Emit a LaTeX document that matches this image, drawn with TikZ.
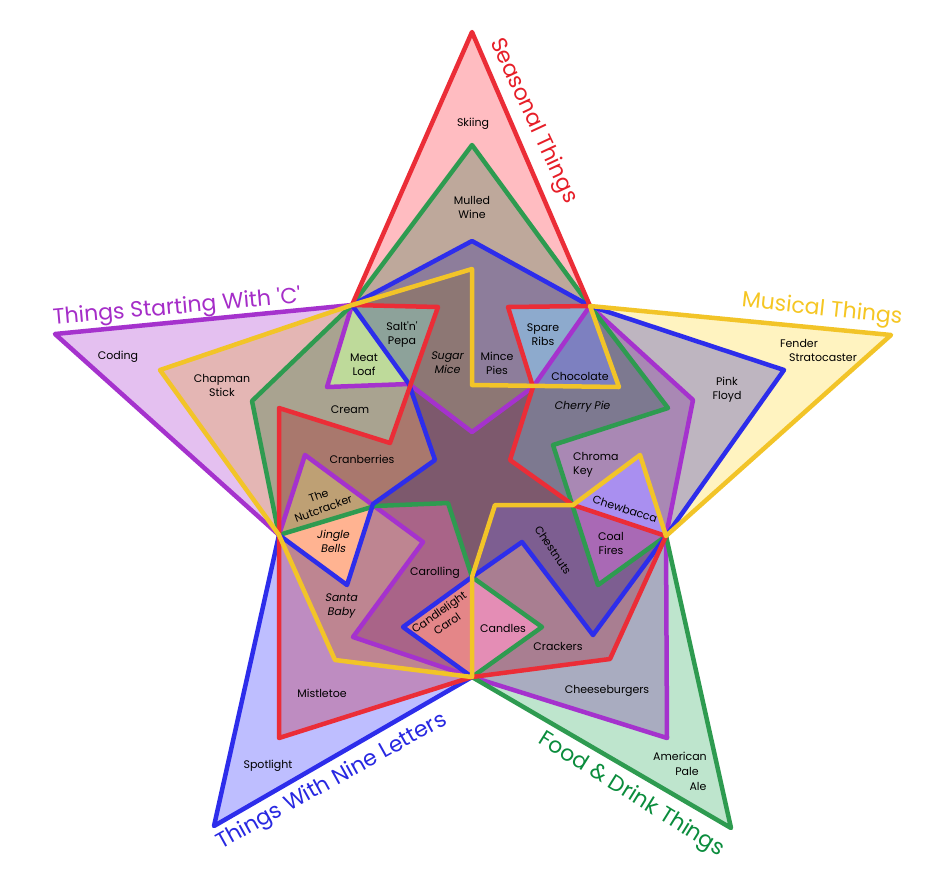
\documentclass[tikz,border=0pt]{standalone}
\usepackage{fontspec}
\setmainfont{Poppins}
\newfontfamily\itfont{Poppins}[FakeSlant=0.18]
\definecolor{cred}{RGB}{235,45,55}
\definecolor{cyel}{RGB}{242,196,40}
\definecolor{cgrn}{RGB}{46,155,80}
\definecolor{cblu}{RGB}{45,45,235}
\definecolor{cpur}{RGB}{165,50,205}
\definecolor{tred}{RGB}{255,188,193}
\definecolor{tyel}{RGB}{255,243,192}
\definecolor{tgrn}{RGB}{190,229,205}
\definecolor{tblu}{RGB}{190,190,255}
\definecolor{tpur}{RGB}{228,192,240}
\definecolor{lred}{RGB}{230,30,40}
\definecolor{lyel}{RGB}{245,198,35}
\definecolor{lgrn}{RGB}{10,140,60}
\definecolor{lblu}{RGB}{40,40,225}
\definecolor{lpur}{RGB}{165,45,200}
\begin{document}
\begin{tikzpicture}[x=1pt,y=-1pt,
  edge/.style={line width=4.5pt,line join=round},
  area/.style={blend mode=multiply},
  lbl/.style={font=\fontsize{11}{14}\selectfont,align=center,inner sep=0pt,text=black},
  ilbl/.style={font=\itfont\fontsize{11}{14}\selectfont,align=center,inner sep=0pt,text=black},
  setlbl/.style={font=\fontsize{22}{24}\selectfont,inner sep=0pt}]
\useasboundingbox (0,0) rectangle (945,895);
\coordinate (P1) at (352,305);
\coordinate (P2) at (590,306);
\coordinate (P3) at (666,536);
\coordinate (P4) at (472,677);
\coordinate (P5) at (279,535);
\coordinate (Rtip) at (472,32);
\coordinate (Ytip) at (891,335);
\coordinate (Gtip) at (731,828);
\coordinate (Btip) at (214,826);
\coordinate (Ctip) at (55,334);
\def\redpath{(Rtip) -- (P2) -- (508,307) -- (533,387) -- (510,460) -- (573,505) -- (P3) -- (610,659) -- (P4) -- (279,738) -- (P5) -- (279,408) -- (390,443) -- (438,307) -- (P1) -- cycle}
\def\yelpath{(Ytip) -- (P3) -- (640,455) -- (573,505) -- (495,505) -- (472,577) -- (P4) -- (335,660) -- (P5) -- (160,370) -- (P1) -- (472,269) -- (472,385) -- (619,387) -- (P2) -- cycle}
\def\grnpath{(Gtip) -- (P4) -- (542,627) -- (472,577) -- (448,503) -- (375,506) -- (P5) -- (252,401) -- (P1) -- (472,145) -- (P2) -- (668,408) -- (553,445) -- (598,585) -- (P3) -- cycle}
\def\blupath{(Btip) -- (P4) -- (403,627) -- (472,577) -- (522,542) -- (593,635) -- (P3) -- (784,370) -- (P2) -- (472,241) -- (P1) -- (409,384) -- (435,460) -- (373,504) -- (347,585) -- (P5) -- cycle}
\def\purpath{(Ctip) -- (P1) -- (327,387) -- (409,384) -- (472,432) -- (533,387) -- (P2) -- (693,400) -- (P3) -- (667,738) -- (P4) -- (353,637) -- (423,542) -- (305,455) -- (P5) -- cycle}
% fills (multiplied tints)
\fill[area,tpur] \purpath;
\fill[area,tgrn] \grnpath;
\fill[area,tblu] \blupath;
\fill[area,tred] \redpath;
\fill[area,tyel] \yelpath;
% outlines
\draw[edge,cpur] \purpath;
\draw[edge,cgrn] \grnpath;
\draw[edge,cblu] \blupath;
\draw[edge,cred] \redpath;
\draw[edge,cyel] \yelpath;
% item labels
\node[lbl] (skiing) at (473,124) {Skiing};
\node[lbl] (mulled) at (472,207) {Mulled\\Wine};
\node[lbl] (coding) at (118,357) {Coding};
\node[lbl] (chapman) at (222,385) {Chapman\\Stick};
\node[lbl] (salt) at (402,335) {Salt\textquotesingle n\textquotesingle\\Pepa};
\node[lbl] (meat) at (364,365) {Meat\\Loaf};
\node[ilbl] (sugar) at (447,363) {Sugar\\Mice};
\node[lbl] (mince) at (497,363) {Mince\\Pies};
\node[lbl] (spare) at (543,335) {Spare\\Ribs};
\node[lbl] (choc) at (580,376) {Chocolate};
\node[lbl] (cream) at (350,410) {Cream};
\node[ilbl] (cherry) at (582,407) {Cherry Pie};
\node[lbl] (fender) at (799,343) {Fender};
\node[lbl] (strat) at (823,358) {Stratocaster};
\node[lbl] (pink) at (727,390) {Pink\\Floyd};
\node[lbl,align=left,anchor=west] (chroma) at (573,465) {Chroma\\Key};
\node[lbl,rotate=-18] (chew) at (625,509) {Chewbacca};
\node[lbl] (coal) at (611,543) {Coal\\Fires};
\node[lbl] (cran) at (362,459) {Cranberries};
\node[lbl,rotate=20] (nut) at (321,502) {The\\Nutcracker};
\node[ilbl] (jingle) at (333,541) {Jingle\\Bells};
\node[ilbl] (santa) at (341,606) {Santa\\Baby};
\node[lbl] (carol) at (435,573) {Carolling};
\node[lbl,rotate=35] (candle) at (443,618) {Candlelight\\Carol};
\node[lbl] (candles) at (503,628) {Candles};
\node[lbl] (crack) at (558,646) {Crackers};
\node[lbl,rotate=-56] (chest) at (553,550) {Chestnuts};
\node[lbl] (mistle) at (322,693) {Mistletoe};
\node[lbl] (spot) at (268,766) {Spotlight};
\node[lbl] (cheese) at (607,691) {Cheeseburgers};
\node[lbl] (amer) at (680,756) {American};
\node[lbl] (pale) at (687,771) {Pale};
\node[lbl] (ale) at (698,786) {Ale};
% set labels
\node[setlbl,text=lred,rotate=-65] (sseas) at (533,121) {Seasonal Things};
\node[setlbl,text=lyel,rotate=-6] (smus) at (822,310) {Musical Things};
\node[setlbl,text=lpur,rotate=5] (sc) at (177,308) {Things Starting With \textquotesingle C\textquotesingle};
\node[setlbl,text=lblu,rotate=29] (snine) at (332,782) {Things With Nine Letters};
\node[setlbl,text=lgrn,rotate=-32] (sfood) at (631,795) {Food \& Drink Things};
\end{tikzpicture}
\end{document}
